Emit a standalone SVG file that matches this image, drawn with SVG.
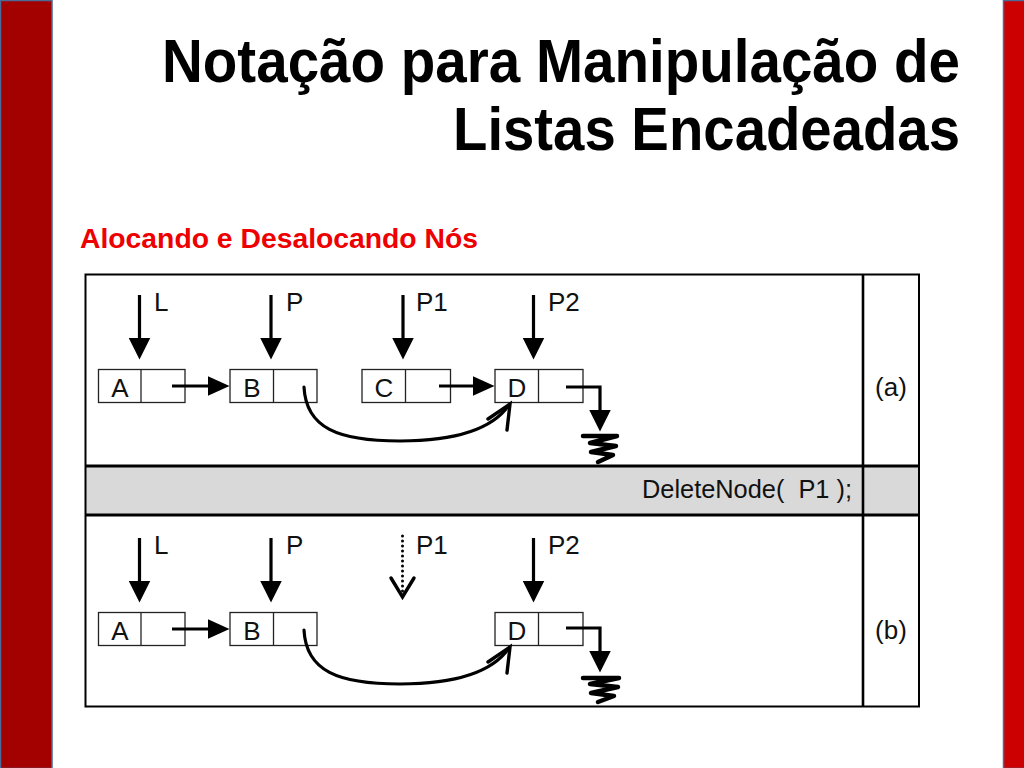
<svg xmlns="http://www.w3.org/2000/svg" width="1024" height="768" viewBox="0 0 1024 768">
<style>
.title{font-family:"Liberation Sans Narrow","Liberation Sans",Arial,sans-serif;font-weight:bold;font-size:61px;fill:#000}
.sub{font-family:"Liberation Sans Narrow","Liberation Sans",Arial,sans-serif;font-weight:bold;font-size:28px;fill:#ee0000}
.lbl{font-family:"Liberation Sans",Arial,sans-serif;font-size:26px;fill:#111}
.mid{text-anchor:middle}
.box{fill:#fff;stroke:#222;stroke-width:1.3}
.div{stroke:#222;stroke-width:1.3}
.ptr{stroke:#000;stroke-width:3.2;fill:none}
.curve{stroke:#000;stroke-width:3.2;fill:none;stroke-linecap:round}
.vhead{stroke:#000;stroke-width:3.4;fill:none;stroke-linecap:round;stroke-linejoin:miter}
.gnd{stroke:#000;stroke-width:4.5;fill:none;stroke-linejoin:round;stroke-linecap:round}
.tbl{stroke:#000;fill:none}
</style>
<defs>
<marker id="head" markerUnits="userSpaceOnUse" markerWidth="22" markerHeight="22" viewBox="0 0 22 22" refX="0.5" refY="11" orient="auto">
<path d="M0,0 L22,11 L0,22 z" fill="#000"/>
</marker>
<marker id="headh" markerUnits="userSpaceOnUse" markerWidth="22" markerHeight="20" viewBox="0 0 22 20" refX="0.5" refY="10" orient="auto">
<path d="M0,0 L22,10 L0,20 z" fill="#000"/>
</marker>
</defs>
<rect x="0" y="0" width="1024" height="768" fill="#fff"/>
<rect x="0.5" y="0.5" width="51.5" height="768" fill="#a30000" stroke="#4a6a9a" stroke-width="1.5"/>
<rect x="1003.5" y="0.5" width="22" height="768" fill="#cc0000" stroke="#4a6a9a" stroke-width="1.5"/>

<text class="title" x="162" y="82" textLength="798" lengthAdjust="spacingAndGlyphs">Notação para Manipulação de</text>
<text class="title" x="453" y="150" textLength="507" lengthAdjust="spacingAndGlyphs">Listas Encadeadas</text>
<text class="sub" x="80" y="248" textLength="398" lengthAdjust="spacingAndGlyphs">Alocando e Desalocando Nós</text>

<g id="table">
<rect x="85.5" y="274.5" width="833.5" height="432" fill="#fff"/>
<rect x="85.5" y="466" width="833.5" height="49" fill="#d9d9d9"/>
<rect class="tbl" x="85.5" y="274.5" width="833.5" height="432" stroke-width="2"/>
<line class="tbl" x1="85.5" y1="466" x2="919" y2="466" stroke-width="3"/>
<line class="tbl" x1="85.5" y1="515" x2="919" y2="515" stroke-width="3"/>
<line class="tbl" x1="863" y1="274.5" x2="863" y2="706.5" stroke-width="2.6"/>
<text class="lbl mid" x="891" y="396">(a)</text>
<text class="lbl" x="642" y="498" font-size="23.5" textLength="210" lengthAdjust="spacingAndGlyphs" xml:space="preserve">DeleteNode(  P1 );</text>
<text class="lbl mid" x="891" y="639">(b)</text>
</g>

<!-- row (a) nodes -->
<g id="a-node-A"><rect class="box" x="98.5" y="369.5" width="86.5" height="33"/><line class="div" x1="141" y1="369.5" x2="141" y2="402.5"/><text class="lbl mid" x="120" y="397">A</text></g>
<g id="a-node-B"><rect class="box" x="230" y="369.5" width="87" height="33"/><line class="div" x1="273.5" y1="369.5" x2="273.5" y2="402.5"/><text class="lbl mid" x="252" y="397">B</text></g>
<g id="a-node-C"><rect class="box" x="362" y="369.5" width="88.5" height="33"/><line class="div" x1="405.5" y1="369.5" x2="405.5" y2="402.5"/><text class="lbl mid" x="384" y="397">C</text></g>
<g id="a-node-D"><rect class="box" x="495" y="369.5" width="88" height="33"/><line class="div" x1="538.5" y1="369.5" x2="538.5" y2="402.5"/><text class="lbl mid" x="517" y="397">D</text></g>

<!-- row (b) nodes -->
<g id="b-node-A"><rect class="box" x="98.5" y="612.5" width="86.5" height="33"/><line class="div" x1="141" y1="612.5" x2="141" y2="645.5"/><text class="lbl mid" x="120" y="640">A</text></g>
<g id="b-node-B"><rect class="box" x="230" y="612.5" width="87" height="33"/><line class="div" x1="273.5" y1="612.5" x2="273.5" y2="645.5"/><text class="lbl mid" x="252" y="640">B</text></g>
<g id="b-node-D"><rect class="box" x="495" y="612.5" width="88" height="33"/><line class="div" x1="538.5" y1="612.5" x2="538.5" y2="645.5"/><text class="lbl mid" x="517" y="640">D</text></g>

<!-- pointer labels -->
<g id="a-labels">
<text class="lbl" x="154" y="311">L</text>
<text class="lbl" x="286" y="311">P</text>
<text class="lbl" x="416" y="311">P1</text>
<text class="lbl" x="548" y="311">P2</text>
</g>
<g id="b-labels">
<text class="lbl" x="154" y="554">L</text>
<text class="lbl" x="286" y="554">P</text>
<text class="lbl" x="416" y="554">P1</text>
<text class="lbl" x="548" y="554">P2</text>
</g>

<g id="connectors">
<!-- row (a) -->
<line class="ptr" x1="139.5" y1="295" x2="139.5" y2="338" marker-end="url(#head)"/>
<line class="ptr" x1="271" y1="295" x2="271" y2="338" marker-end="url(#head)"/>
<line class="ptr" x1="403" y1="295" x2="403" y2="338" marker-end="url(#head)"/>
<line class="ptr" x1="533.5" y1="295" x2="533.5" y2="338" marker-end="url(#head)"/>
<line class="ptr" x1="172" y1="386" x2="208" y2="386" marker-end="url(#headh)"/>
<line class="ptr" x1="439" y1="386" x2="473" y2="386" marker-end="url(#headh)"/>
<path class="curve" d="M304,387 C306,428 338,441 400,441 C455,441 492,430 509,405"/>
<path class="vhead" d="M488,419 L510,404 L507,430"/>
<path class="ptr" d="M566,387 H600 V410" marker-end="url(#head)"/>
<path class="gnd" d="M583,436 L617,436 L590,443 L616,446 L591,452 L613,455 L598,462"/>

<!-- row (b) -->
<line class="ptr" x1="139.5" y1="538" x2="139.5" y2="581" marker-end="url(#head)"/>
<line class="ptr" x1="271" y1="538" x2="271" y2="581" marker-end="url(#head)"/>
<line x1="402.5" y1="536" x2="402.5" y2="592" stroke="#000" stroke-width="3" stroke-linecap="round" stroke-dasharray="0 5"/>
<path class="vhead" d="M391,578 L402.5,597 L414,578"/>
<line class="ptr" x1="533.5" y1="538" x2="533.5" y2="581" marker-end="url(#head)"/>
<line class="ptr" x1="172" y1="629" x2="208" y2="629" marker-end="url(#headh)"/>
<path class="curve" d="M304,630 C306,671 338,684 400,684 C455,684 492,673 509,648"/>
<path class="vhead" d="M488,662 L510,647 L507,673"/>
<path class="ptr" d="M566,628 H600 V651" marker-end="url(#head)"/>
<path class="gnd" d="M583,678 L619,678 L590,684 L618,687 L591,693 L614,696 L598,702"/>
</g>
</svg>
